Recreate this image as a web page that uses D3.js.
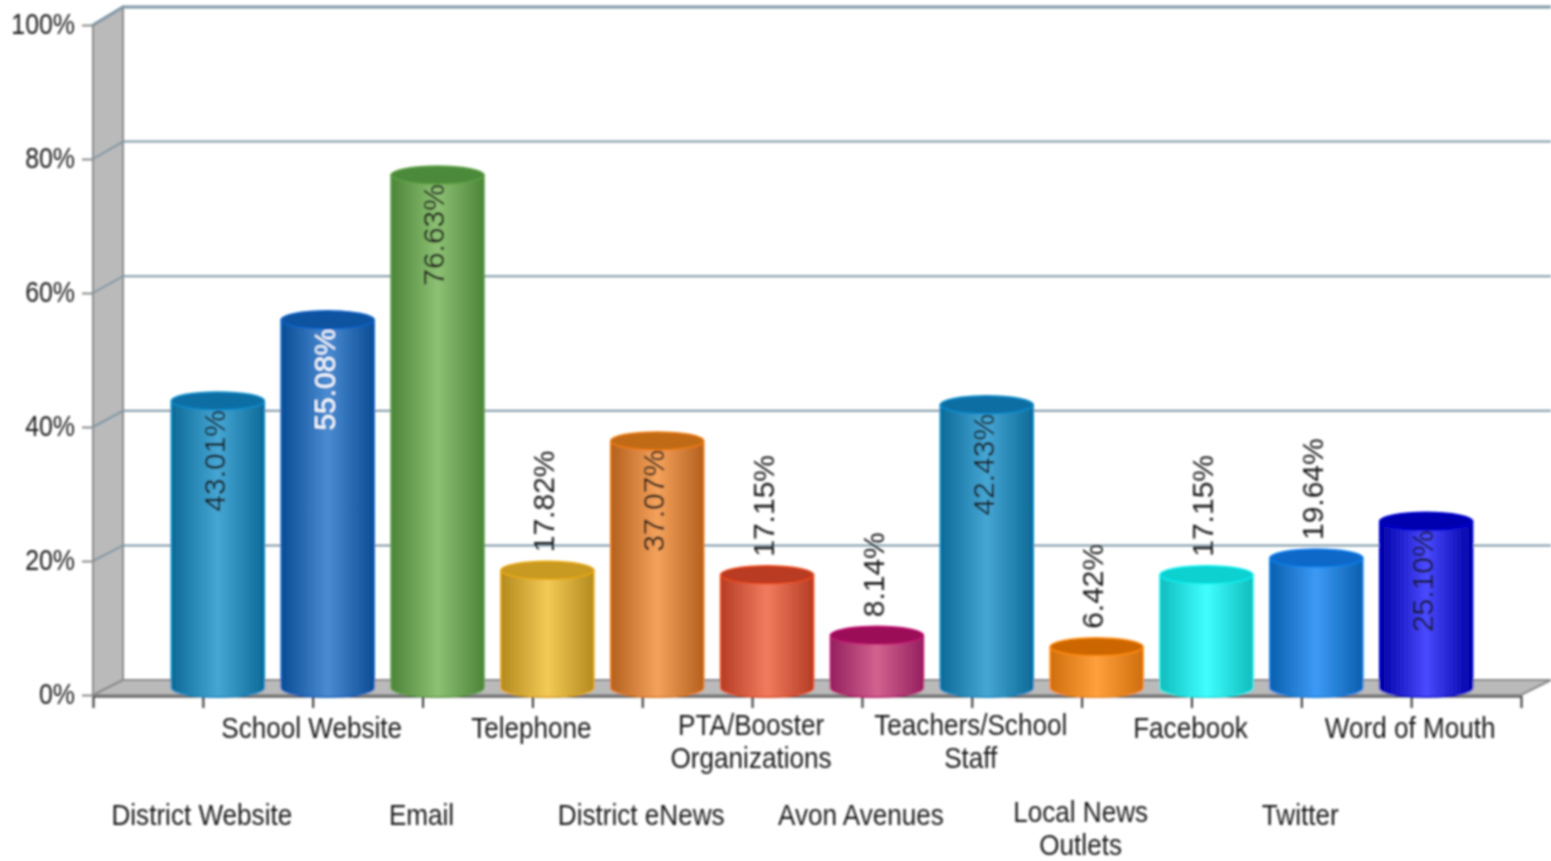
<!DOCTYPE html>
<html>
  <head>
    <meta charset="utf-8" />
    <title>Communication channels</title>
    <style>
      body {
        margin: 0;
        background: #fff;
      }
      svg {
        display: block;
      }
      text {
        font-family: 'Liberation Sans', sans-serif;
        font-size: 30px;
        fill: #1c1c1c;
      }
    </style>
  </head>
  <body>
    <svg id="svg" width="1551" height="861"></svg>
    <script src="https://cdn.jsdelivr.net/npm/d3@7"></script>
    <script>
      const categories = [
        'District Website',
        'School Website',
        'Email',
        'Telephone',
        'District eNews',
        'PTA/Booster\nOrganizations',
        'Avon Avenues',
        'Teachers/School\nStaff',
        'Local News\nOutlets',
        'Facebook',
        'Twitter',
        'Word of Mouth',
      ];
      const values = [43.01, 55.08, 76.63, 17.82, 37.07, 17.15, 8.14, 42.43, 6.42, 17.15, 19.64, 25.1];
      const yTicks = [0, 20, 40, 60, 80, 100];

      const edgeColors = ['#0c6a97', '#0a4c94', '#4c8438', '#b38a1e', '#b4601e', '#b43c24', '#94205f', '#0c6a97', '#cf6e0e', '#10bcbc', '#0a5fae', '#0000a6'];
      const midColors = ['#46a6d4', '#4a8cd2', '#8dc174', '#f3ca55', '#f5a25c', '#f27c5e', '#d2628f', '#46a6d4', '#ffa03c', '#40ffff', '#3c9af6', '#4a4aff'];
      const topColors = ['#0b6ea4', '#0a52a0', '#4b8a3a', '#c89a20', '#c06a15', '#b83a20', '#9c0f58', '#0b6ea4', '#cc6600', '#10d0d0', '#0868c8', '#0000b0'];
      const rimColors = ['#0a8ccc', '#0a62c8', '#5fa045', '#eaa80c', '#ee7a10', '#ee4a1a', '#c01870', '#0a8ccc', '#ff8a10', '#10f0f0', '#0a80ee', '#0000d8'];

      const left = 93;
      const right = 1521;
      const depthX = 30;
      const barWidth = 93;
      const capHeight = 9;

      const svg = d3.select('#svg');
      const defs = svg.append('defs');
      defs
        .append('filter')
        .attr('id', 'soft')
        .append('feGaussianBlur')
        .attr('stdDeviation', 0.8);

      const chart = svg.append('g').attr('filter', 'url(#soft)');

      const xScale = d3.scalePoint().domain(categories).range([left, right]).padding(1);
      const yScale = d3.scaleLinear().domain([0, 100]).range([695, 25]);
      const backScale = d3.scaleLinear().domain([0, 100]).range([680, 7]);
      const barScale = d3.scaleLinear().domain([0, 100]).range([690, 18]);

      // narrower text, the original font is a condensed one
      const squeeze = (selection, ratio) =>
        selection
          .attr('textLength', function () {
            return this.getComputedTextLength() * ratio;
          })
          .attr('lengthAdjust', 'spacingAndGlyphs');

      // Left axis
      const yAxis = chart
        .append('g')
        .attr('transform', `translate(${left}, 0)`)
        .call(
          d3
            .axisLeft(yScale)
            .tickValues(yTicks)
            .tickSize(11)
            .tickPadding(7)
            .tickFormat((d) => `${d}%`)
        );
      yAxis.select('.domain').remove();
      yAxis.selectAll('line').attr('stroke', '#8a8a8a').attr('stroke-width', 2);
      yAxis
        .selectAll('text')
        .style('font-size', '30px')
        .attr('dy', '0.28em')
        .call(squeeze, 0.83);

      // Bottom axis, the outer ticks close the first and last slots
      const xAxis = chart
        .append('g')
        .attr('transform', 'translate(0, 696)')
        .call(d3.axisBottom(xScale).tickSize(12).tickSizeOuter(12).tickFormat(''));
      xAxis.selectAll('line, path').attr('stroke', '#333').attr('stroke-width', 2);

      // Side wall and floor
      chart
        .append('path')
        .attr(
          'd',
          `M${left},${yScale(0)}V${yScale(100)}L${left + depthX},${backScale(100)}V${backScale(0)}Z`
        )
        .attr('fill', '#bababa')
        .attr('stroke', '#8a8a8a')
        .attr('stroke-width', 2);
      chart
        .append('path')
        .attr(
          'd',
          `M${left},${yScale(0)}H${right}L${right + depthX},${backScale(0)}H${left + depthX}Z`
        )
        .attr('fill', '#bababa')
        .attr('stroke', '#8a8a8a')
        .attr('stroke-width', 2);

      // Grid lines on the wall and back panel
      chart
        .selectAll('.grid')
        .data(yTicks.slice(1))
        .join('path')
        .attr('class', 'grid')
        .attr(
          'd',
          (d) => `M${left},${yScale(d)}L${left + depthX},${backScale(d)}H1551`
        )
        .attr('fill', 'none')
        .attr('stroke', '#7f97a6')
        .attr('stroke-width', (d) => (d === 100 ? 3 : 2));

      // Cylinders
      const bars = chart
        .selectAll('.bar')
        .data(categories)
        .join('g')
        .attr('class', 'bar')
        .attr('transform', (d) => `translate(${xScale(d) + depthX / 2}, 0)`);

      const gradients = defs
        .selectAll('linearGradient')
        .data(categories)
        .join('linearGradient')
        .attr('id', (d, i) => `bar${i}`);
      gradients
        .selectAll('stop')
        .data((d, i) => [
          [0, edgeColors[i]],
          [0.5, midColors[i]],
          [1, edgeColors[i]],
        ])
        .join('stop')
        .attr('offset', (d) => d[0])
        .attr('stop-color', (d) => d[1]);

      const rx = barWidth / 2;
      const baseY = barScale(0) - 2;
      bars
        .append('path')
        .attr(
          'd',
          (d, i) =>
            `M${-rx},${barScale(values[i])}V${baseY}A${rx},${capHeight} 0 0 0 ${rx},${baseY}V${barScale(values[i])}Z`
        )
        .attr('fill', (d, i) => `url(#bar${i})`)
        .attr('stroke', (d, i) => rimColors[i])
        .attr('stroke-width', 1.5);
      bars
        .append('ellipse')
        .attr('cy', (d, i) => barScale(values[i]))
        .attr('rx', rx)
        .attr('ry', capHeight)
        .attr('fill', (d, i) => topColors[i])
        .attr('stroke', (d, i) => rimColors[i])
        .attr('stroke-width', 1.5);

      // Rotated value labels, inside tall bars and above short ones
      bars
        .append('text')
        .attr('text-anchor', (d, i) => (values[i] >= 25 ? 'end' : 'start'))
        .attr('transform', (d, i) => {
          const top = barScale(values[i]);
          const y = values[i] >= 25 ? top + 9 : top - 18;
          return `translate(-4, ${y}) rotate(-90)`;
        })
        .attr('dy', '0.36em')
        .style('fill', (d) => (d === 'School Website' ? '#fff' : '#1c1c1c'))
        .text((d, i) => `${values[i].toFixed(2)}%`);

      // Category labels on two staggered rows
      const labels = chart
        .selectAll('.label')
        .data(categories)
        .join('text')
        .attr('class', 'label')
        .attr('text-anchor', 'middle')
        .attr('y', (d, i) => {
          const row = i % 2 === 1 ? 738 : 825;
          return d.includes('\n') ? row - 3 : row;
        });
      labels
        .selectAll('tspan')
        .data((d) => d.split('\n'))
        .join('tspan')
        .attr('x', function () {
          return xScale(d3.select(this.parentNode).datum()) - 1;
        })
        .attr('dy', (d, i) => (i ? 33 : 0))
        .text((d) => d)
        .call(squeeze, 0.87);
    </script>
  </body>
</html>
